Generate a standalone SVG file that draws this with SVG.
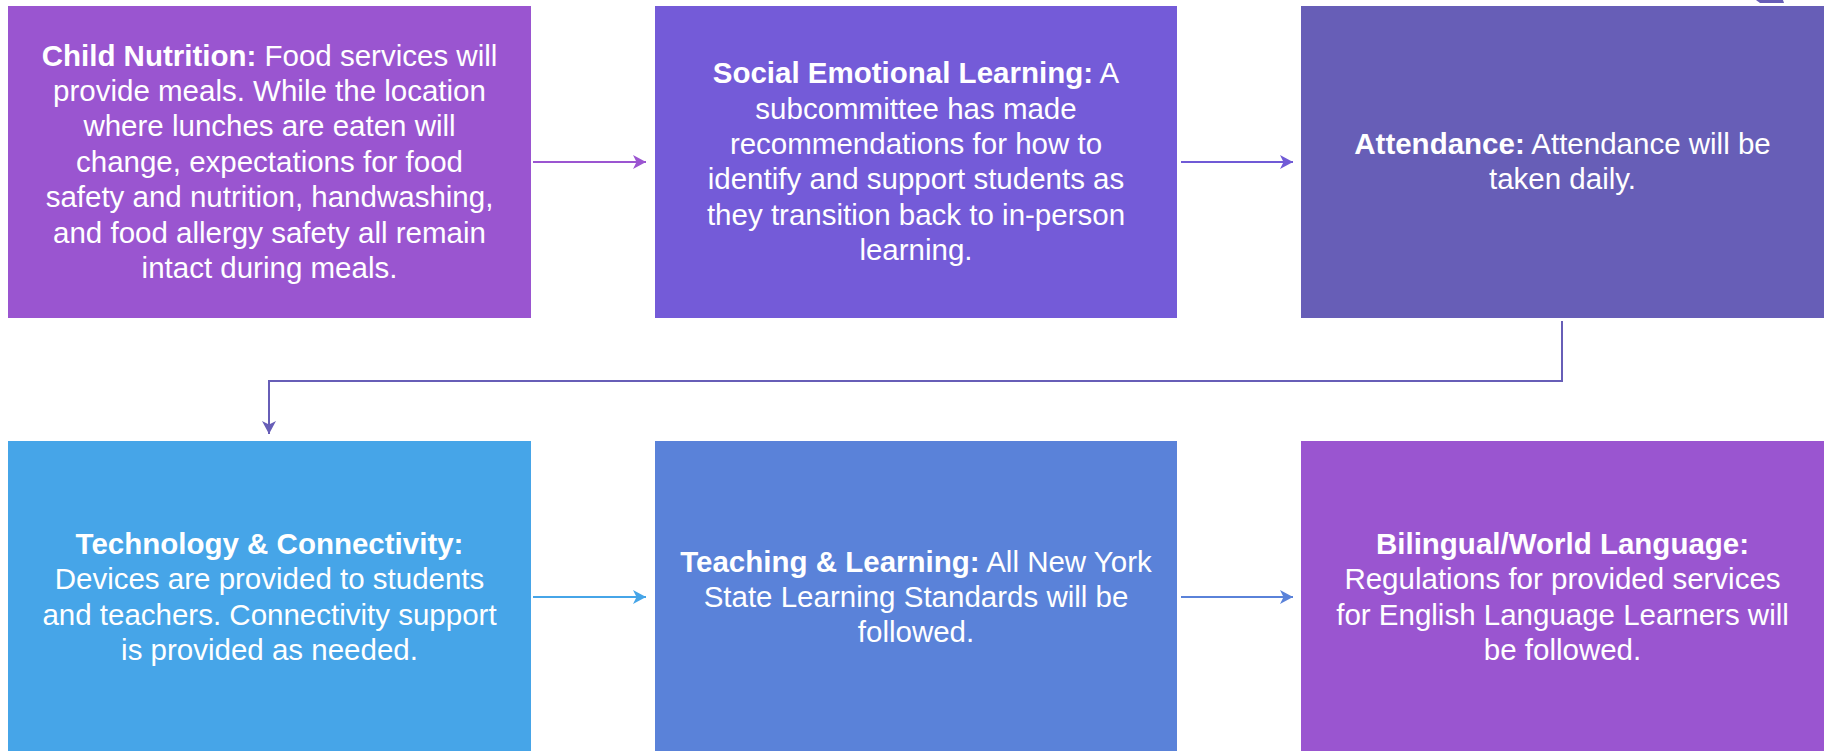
<svg xmlns="http://www.w3.org/2000/svg" width="1831" height="751" viewBox="0 0 1831 751">
<defs>
<style>
.t{font-family:"Liberation Sans",Arial,sans-serif;font-size:29.5px;fill:#ffffff;text-anchor:middle}
.b{font-weight:bold}
.c{fill:none;stroke-width:2}
</style>
<marker id="m1" markerUnits="userSpaceOnUse" markerWidth="15" markerHeight="15" refX="13" refY="7" orient="auto"><path d="M0,0 L13,7 L0,14 L3.5,7 z" fill="#9B55D1"/></marker>
<marker id="m2" markerUnits="userSpaceOnUse" markerWidth="15" markerHeight="15" refX="13" refY="7" orient="auto"><path d="M0,0 L13,7 L0,14 L3.5,7 z" fill="#705AD6"/></marker>
<marker id="m3" markerUnits="userSpaceOnUse" markerWidth="15" markerHeight="15" refX="13" refY="7" orient="auto"><path d="M0,0 L13,7 L0,14 L3.5,7 z" fill="#675EB7"/></marker>
<marker id="m4" markerUnits="userSpaceOnUse" markerWidth="15" markerHeight="15" refX="13" refY="7" orient="auto"><path d="M0,0 L13,7 L0,14 L3.5,7 z" fill="#46A5E8"/></marker>
<marker id="m5" markerUnits="userSpaceOnUse" markerWidth="15" markerHeight="15" refX="13" refY="7" orient="auto"><path d="M0,0 L13,7 L0,14 L3.5,7 z" fill="#5A82D9"/></marker>
</defs>
<rect width="1831" height="751" fill="#ffffff"/>
<polygon points="1756,0 1783,0 1784,3 1760,3" fill="#675EB7"/>
<g id="connectors">
<path class="c" d="M533,162 H646" stroke="#9B55D1" marker-end="url(#m1)"/>
<path class="c" d="M1181,162 H1293" stroke="#705AD6" marker-end="url(#m2)"/>
<path class="c" d="M1562,321 V381 H269 V434" stroke="#675EB7" marker-end="url(#m3)"/>
<path class="c" d="M533,597 H646" stroke="#46A5E8" marker-end="url(#m4)"/>
<path class="c" d="M1181,597 H1293" stroke="#5A82D9" marker-end="url(#m5)"/>
</g>
<g id="child-nutrition">
<rect x="8" y="6" width="523" height="312" fill="#9A55D0"/>
<text class="t" x="269.5" y="65.5"><tspan class="b">Child Nutrition:</tspan> Food services will</text>
<text class="t" x="269.5" y="100.9">provide meals. While the location</text>
<text class="t" x="269.5" y="136.3">where lunches are eaten will</text>
<text class="t" x="269.5" y="171.7">change, expectations for food</text>
<text class="t" x="269.5" y="207.1">safety and nutrition, handwashing,</text>
<text class="t" x="269.5" y="242.5">and food allergy safety all remain</text>
<text class="t" x="269.5" y="277.9">intact during meals.</text>
</g>
<g id="social-emotional-learning">
<rect x="655" y="6" width="522" height="312" fill="#745BD8"/>
<text class="t" x="916" y="83.2"><tspan class="b">Social Emotional Learning:</tspan> A</text>
<text class="t" x="916" y="118.6">subcommittee has made</text>
<text class="t" x="916" y="154">recommendations for how to</text>
<text class="t" x="916" y="189.4">identify and support students as</text>
<text class="t" x="916" y="224.8">they transition back to in-person</text>
<text class="t" x="916" y="260.2">learning.</text>
</g>
<g id="attendance">
<rect x="1301" y="6" width="523" height="312" fill="#675EB7"/>
<text class="t" x="1562.5" y="154"><tspan class="b">Attendance:</tspan> Attendance will be</text>
<text class="t" x="1562.5" y="189.4">taken daily.</text>
</g>
<g id="technology-connectivity">
<rect x="8" y="441" width="523" height="312" fill="#46A5E8"/>
<text class="t b" x="269.5" y="553.9">Technology &amp; Connectivity:</text>
<text class="t" x="269.5" y="589.3">Devices are provided to students</text>
<text class="t" x="269.5" y="624.7">and teachers. Connectivity support</text>
<text class="t" x="269.5" y="660.1">is provided as needed.</text>
</g>
<g id="teaching-learning">
<rect x="655" y="441" width="522" height="312" fill="#5A82D9"/>
<text class="t" x="916" y="571.6"><tspan class="b">Teaching &amp; Learning:</tspan> All New York</text>
<text class="t" x="916" y="607">State Learning Standards will be</text>
<text class="t" x="916" y="642.4">followed.</text>
</g>
<g id="bilingual-world-language">
<rect x="1301" y="441" width="523" height="312" fill="#9A55D0"/>
<text class="t b" x="1562.5" y="553.9">Bilingual/World Language:</text>
<text class="t" x="1562.5" y="589.3">Regulations for provided services</text>
<text class="t" x="1562.5" y="624.7">for English Language Learners will</text>
<text class="t" x="1562.5" y="660.1">be followed.</text>
</g>
</svg>
